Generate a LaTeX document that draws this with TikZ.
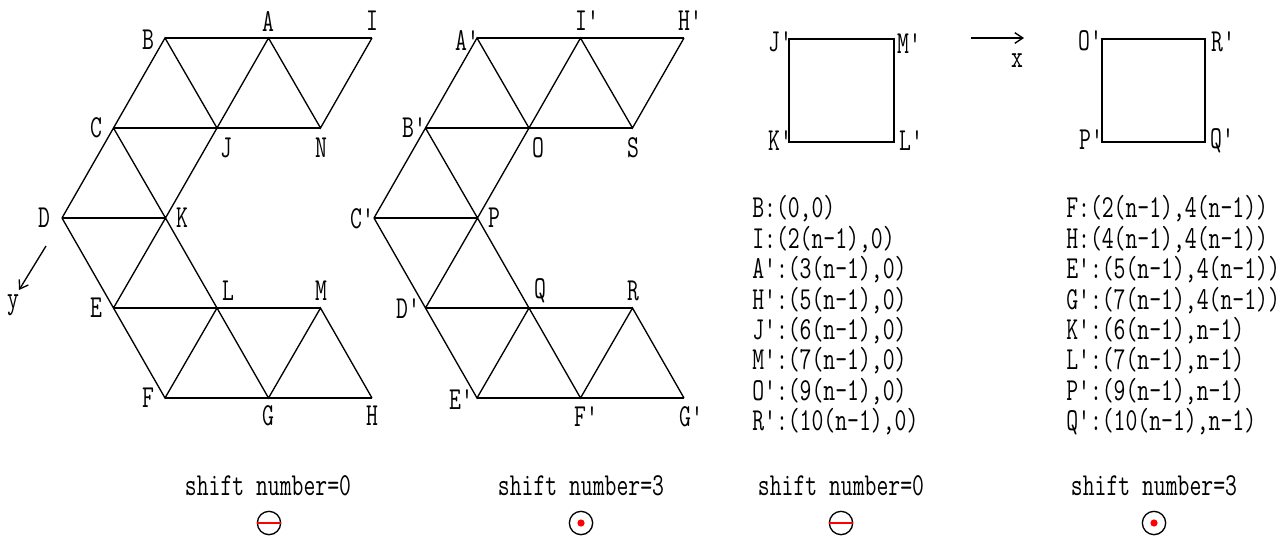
\documentclass[tikz,border=0pt]{standalone}
\usepackage{fontspec}
\newfontfamily\pixfont[FakeStretch=0.72]{Latin Modern Mono}
\usepackage{xcolor}
\usetikzlibrary{calc, arrows, arrows.meta}

\begin{document}
\begin{tikzpicture}[x=0.75pt,y=0.75pt,yscale=-1,xscale=1,
    every node/.style={font=\pixfont\fontsize{24}{28}\selectfont, inner sep=0.75pt},
    net/.style={line width=1pt},
    box/.style={line width=1.3pt},
    axis/.style={line width=1pt, -{Straight Barb[length=6pt,width=8pt]}},
    mark circ/.style={circle, draw, line width=1pt, minimum size=17.5pt, inner sep=0pt}]
  \useasboundingbox (0,0) rectangle (1280,536);

  % left net, shift number = 0
  \coordinate (B) at (165,38);   \coordinate (A) at (268.5,38); \coordinate (I) at (372,38);
  \coordinate (C) at (113.5,128); \coordinate (J) at (217,128); \coordinate (N) at (320.5,128);
  \coordinate (D) at (62,218);   \coordinate (K) at (165.5,218);
  \coordinate (E) at (113.5,308); \coordinate (L) at (217,308); \coordinate (M) at (320.5,308);
  \coordinate (F) at (165,398);  \coordinate (G) at (268.5,398); \coordinate (H) at (372,398);
  \draw [net] (B) -- (A) -- (I);
  \draw [net] (C) -- (J) -- (N);
  \draw [net] (D) -- (K);
  \draw [net] (E) -- (L) -- (M);
  \draw [net] (F) -- (G) -- (H);
  \draw [net] (C) -- (B) -- (J) -- (A) -- (N) -- (I);
  \draw [net] (D) -- (C) -- (K) -- (J);
  \draw [net] (D) -- (E) -- (K) -- (L);
  \draw [net] (E) -- (F) -- (L) -- (G) -- (M) -- (H);
  \node (lB) at (148,40) {B};
  \node (lA) at (268,21) {A};
  \node (lI) at (372,21) {I};
  \node (lC) at (96,128) {C};
  \node (lJ) at (226,148) {J};
  \node (lN) at (321,148) {N};
  \node (lD) at (44,218) {D};
  \node (lK) at (182,218) {K};
  \node (lE) at (96,308) {E};
  \node (lL) at (228,291) {L};
  \node (lM) at (321,291) {M};
  \node (lF) at (148,398) {F};
  \node (lG) at (268,416) {G};
  \node (lH) at (372,416) {H};

  % middle net, shift number = 3
  \coordinate (Ap) at (477,38);   \coordinate (Ip) at (580.5,38); \coordinate (Hp) at (684,38);
  \coordinate (Bp) at (425.5,128); \coordinate (O) at (529,128);  \coordinate (S) at (632.5,128);
  \coordinate (Cp) at (374,218);  \coordinate (P) at (477.5,218);
  \coordinate (Dp) at (425.5,308); \coordinate (Q) at (529,308);  \coordinate (R) at (632.5,308);
  \coordinate (Ep) at (477,398);  \coordinate (Fp) at (580.5,398); \coordinate (Gp) at (684,398);
  \draw [net] (Ap) -- (Ip) -- (Hp);
  \draw [net] (Bp) -- (O) -- (S);
  \draw [net] (Cp) -- (P);
  \draw [net] (Dp) -- (Q) -- (R);
  \draw [net] (Ep) -- (Fp) -- (Gp);
  \draw [net] (Bp) -- (Ap) -- (O) -- (Ip) -- (S) -- (Hp);
  \draw [net] (Cp) -- (Bp) -- (P) -- (O);
  \draw [net] (Cp) -- (Dp) -- (P) -- (Q);
  \draw [net] (Dp) -- (Ep) -- (Q) -- (Fp) -- (R) -- (Gp);
  \node (lAp) at (467,40) {A'};
  \node (lIp) at (587,21) {I'};
  \node (lHp) at (690,21) {H'};
  \node (lBp) at (414,128) {B'};
  \node (lO) at (538,148) {O};
  \node (lS) at (633,148) {S};
  \node (lCp) at (362,219) {C'};
  \node (lP) at (494,218) {P};
  \node (lDp) at (408,309) {D'};
  \node (lQ) at (540,291) {Q};
  \node (lR) at (633,291) {R};
  \node (lEp) at (461,400) {E'};
  \node (lFp) at (586,417) {F'};
  \node (lGp) at (691,417) {G'};

  % axes
  \coordinate (ys) at (46,246); \coordinate (ye) at (19,290);
  \draw [axis] (ys) -- (ye);
  \node (ly) at (13,305) {y};
  \coordinate (xs) at (971,38); \coordinate (xe) at (1024,38);
  \draw [axis] (xs) -- (xe);
  \node (lx) at (1017,61) {x};

  % squares
  \coordinate (Jp) at (789,39);  \coordinate (Mp) at (894,39);
  \coordinate (Kp) at (789,142); \coordinate (Lp) at (894,142);
  \draw [box] (Jp) -- (Mp) -- (Lp) -- (Kp) -- cycle;
  \node (lJp) at (780,42) {J'};
  \node (lMp) at (909,44) {M'};
  \node (lKp) at (780,141) {K'};
  \node (lLp) at (911,141) {L'};
  \coordinate (Op) at (1102,39);  \coordinate (Rp) at (1205,39);
  \coordinate (Pp) at (1102,142); \coordinate (Qp) at (1205,142);
  \draw [box] (Op) -- (Rp) -- (Qp) -- (Pp) -- cycle;
  \node (lOp) at (1090,41) {O'};
  \node (lRp) at (1223,42) {R'};
  \node (lPp) at (1091,140) {P'};
  \node (lQp) at (1222,141) {Q'};

  % coordinates of the corners
  \foreach \t [count=\i] in {{B:(0,0)}, {I:(2(n-1),0)}, {A':(3(n-1),0)}, {H':(5(n-1),0)},
      {J':(6(n-1),0)}, {M':(7(n-1),0)}, {O':(9(n-1),0)}, {R':(10(n-1),0)}}
    \node [anchor=west] (cl\i) at (751,{209+30.4*(\i-1)}) {\t};
  \foreach \t [count=\i] in {{F:(2(n-1),4(n-1))}, {H:(4(n-1),4(n-1))}, {E':(5(n-1),4(n-1))},
      {G':(7(n-1),4(n-1))}, {K':(6(n-1),n-1)}, {L':(7(n-1),n-1)}, {P':(9(n-1),n-1)},
      {Q':(10(n-1),n-1)}}
    \node [anchor=west] (cr\i) at (1065,{209+30.4*(\i-1)}) {\t};

  % shift numbers and marks
  \node (s1) at (268,486) {shift number=0};
  \node (s2) at (581,486) {shift number=3};
  \node (s3) at (841,486) {shift number=0};
  \node (s4) at (1154,486) {shift number=3};
  \node [mark circ] (m1) at (269,523) {};
  \draw [red, line width=1.5pt] (m1.west) -- (m1.east);
  \node [mark circ] (m2) at (581,523) {};
  \fill [red] (m2) circle (3.6);
  \node [mark circ] (m3) at (841,523) {};
  \draw [red, line width=1.5pt] (m3.west) -- (m3.east);
  \node [mark circ] (m4) at (1154,523) {};
  \fill [red] (m4) circle (3.6);
\end{tikzpicture}
\end{document}
